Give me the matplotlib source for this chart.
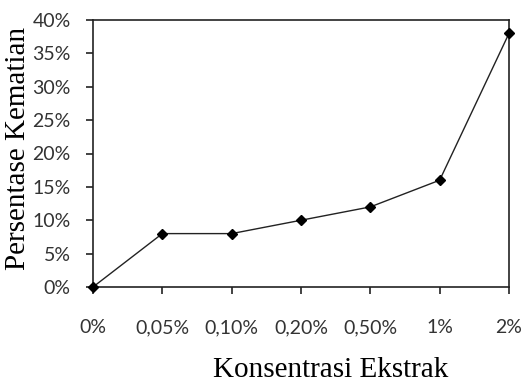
import matplotlib
matplotlib.use('Agg')
import matplotlib.pyplot as plt
from matplotlib.ticker import FuncFormatter

# data
konsentrasi = ['0%', '0,05%', '0,10%', '0,20%', '0,50%', '1%', '2%']
kematian = [0, 8, 8, 10, 12, 16, 38]

fig = plt.figure(figsize=(5.24, 3.83), dpi=100, facecolor='w')
ax = fig.add_axes([93/524, 1 - 287/383, (509 - 93)/524, (287 - 20)/383])

x = range(len(konsentrasi))
ax.plot(x, kematian, color='#222222', lw=1.0, marker='D', ms=5,
        mfc='black', mec='black', clip_on=False, zorder=3)

ax.set_xlim(0, len(konsentrasi) - 1)
ax.set_ylim(0, 40)
ax.set_yticks(range(0, 41, 5))
ax.yaxis.set_major_formatter(FuncFormatter(lambda v, p: '%d%%' % v))
ax.set_xticks(list(x))
ax.set_xticklabels(konsentrasi)

for s in ax.spines.values():
    s.set_linewidth(1.2)
    s.set_color('#222222')
ax.tick_params(axis='both', direction='out', length=5, width=1.2, color='#222222',
               labelsize=14, labelcolor='#333333')
ax.tick_params(axis='x', pad=18)
ax.tick_params(axis='y', pad=11)
for lab in ax.get_xticklabels() + ax.get_yticklabels():
    lab.set_family('Lato')

ax.set_xlabel('Konsentrasi Ekstrak', family='Liberation Serif', fontsize=21)
ax.set_ylabel('Persentase Kematian', family='Liberation Serif', fontsize=21)
ax.xaxis.set_label_coords(0.572, -0.262)
ax.yaxis.set_label_coords(-0.15, 0.52)

fig.savefig('out.png', dpi=100)
